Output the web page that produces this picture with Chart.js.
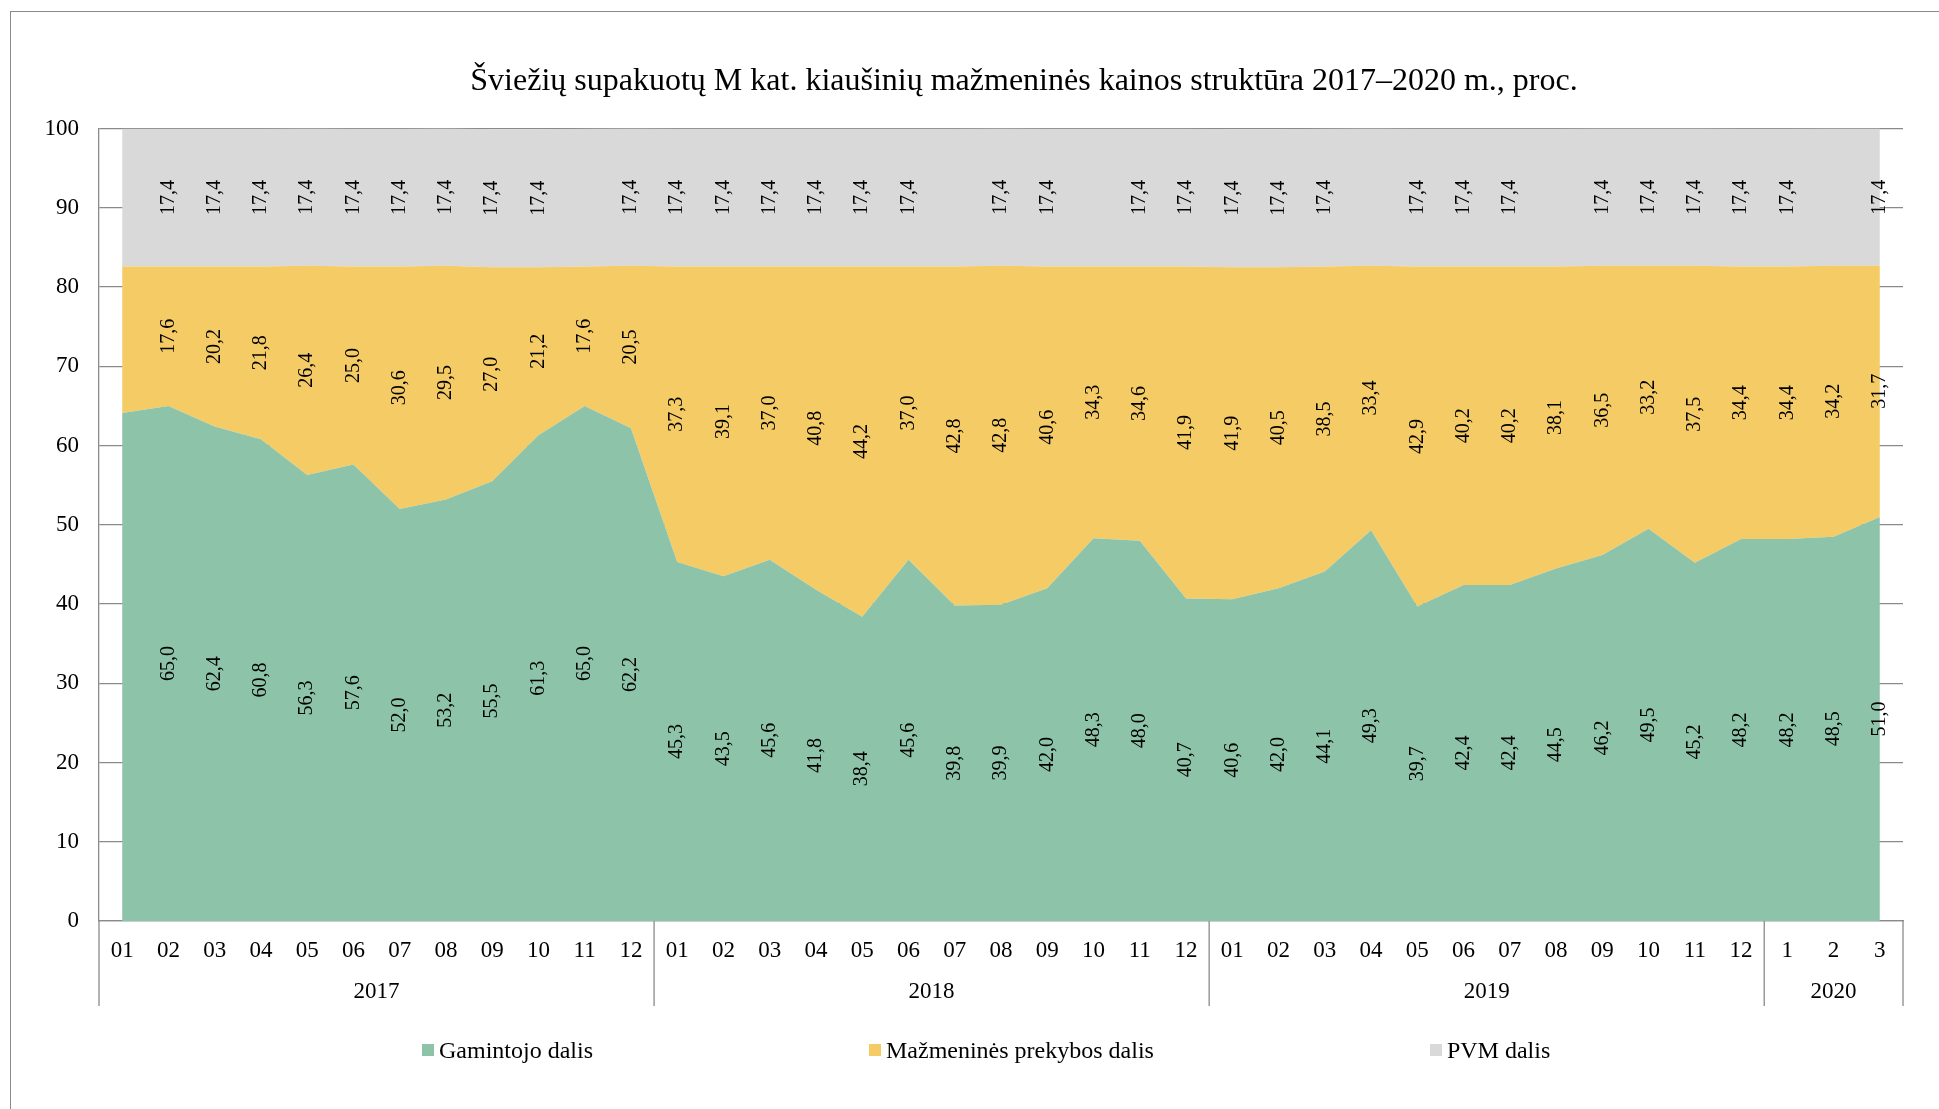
<!DOCTYPE html>
<html lang="lt">
<head>
<meta charset="utf-8">
<script src="https://cdn.jsdelivr.net/npm/chart.js@4.4.1/dist/chart.umd.min.js"></script>
<style>
  html, body { margin: 0; padding: 0; background: #fff; overflow: hidden; }
  #wrap { position: relative; width: 1939px; height: 1109px; }
  #frame { position: absolute; left: 10px; top: 11px; width: 2000px; height: 1200px;
           border-left: 1px solid #8a8a8a; border-top: 1px solid #8a8a8a; }
  #c { position: absolute; left: 0; top: 0; }
  #title { position: absolute; left: 0; width: 2048px; top: 61px; text-align: center;
           font-family: "Liberation Serif", "Times New Roman", serif; font-size: 32px;
           line-height: 36px; color: #000; white-space: nowrap; }
  #legend { position: absolute; left: 422px; top: 1036px; display: flex; gap: 276px;
            font-family: "Liberation Serif", "Times New Roman", serif; font-size: 24px;
            line-height: 28px; color: #000; white-space: nowrap; }
  #legend .item { display: flex; align-items: center; }
  #legend .box { width: 12px; height: 12px; margin-right: 5px; display: inline-block; }
</style>
</head>
<body>
<div id="wrap">
  <div id="frame"></div>
  <canvas id="c" width="1939" height="1109"></canvas>
  <div id="title">Šviežių supakuotų M kat. kiaušinių mažmeninės kainos struktūra 2017–2020 m., proc.</div>
  <div id="legend"></div>
</div>
<script>
// ---- data ----
const monthLabels = ['01','02','03','04','05','06','07','08','09','10','11','12',
                     '01','02','03','04','05','06','07','08','09','10','11','12',
                     '01','02','03','04','05','06','07','08','09','10','11','12',
                     '1','2','3'];
const years = ['2017', '2018', '2019', '2020'];
const yearCounts = [12, 12, 12, 3];

const seriesNames = ['Gamintojo dalis', 'Mažmeninės prekybos dalis', 'PVM dalis'];
const gamintojo = [64.1, 65.0, 62.4, 60.8, 56.3, 57.6, 52.0, 53.2, 55.5, 61.3, 65.0, 62.2,
                   45.3, 43.5, 45.6, 41.8, 38.4, 45.6, 39.8, 39.9, 42.0, 48.3, 48.0, 40.7,
                   40.6, 42.0, 44.1, 49.3, 39.7, 42.4, 42.4, 44.5, 46.2, 49.5, 45.2, 48.2,
                   48.2, 48.5, 51.0];
const prekybos = [18.5, 17.6, 20.2, 21.8, 26.4, 25.0, 30.6, 29.5, 27.0, 21.2, 17.6, 20.5,
                  37.3, 39.1, 37.0, 40.8, 44.2, 37.0, 42.8, 42.8, 40.6, 34.3, 34.6, 41.9,
                  41.9, 40.5, 38.5, 33.4, 42.9, 40.2, 40.2, 38.1, 36.5, 33.2, 37.5, 34.4,
                  34.4, 34.2, 31.7];
const pvm = [17.4, 17.4, 17.4, 17.4, 17.4, 17.4, 17.4, 17.4, 17.4, 17.4, 17.4, 17.4,
             17.4, 17.4, 17.4, 17.4, 17.4, 17.4, 17.4, 17.4, 17.4, 17.4, 17.4, 17.4,
             17.4, 17.4, 17.4, 17.4, 17.4, 17.4, 17.4, 17.4, 17.4, 17.4, 17.4, 17.4,
             17.4, 17.4, 17.4];
// indices whose value labels are not shown in the original
const hiddenGamintojo = [0];
const hiddenPrekybos = [0];
const hiddenPvm = [0, 10, 18, 21, 27, 31, 37];

const yTicks = [0, 10, 20, 30, 40, 50, 60, 70, 80, 90, 100];

// ---- styles ----
const colors = ['#8DC3A8', '#F5CB65', '#D9D9D9'];
const serif = '"Liberation Serif", "Times New Roman", serif';
const lineGray = '#8a8a8a';

const hiddenLists = [hiddenGamintojo, hiddenPrekybos, hiddenPvm];
const fmt = v => v.toFixed(1).replace('.', ',');

const segLabels = {
  id: 'segLabels',
  afterDatasetsDraw(chart) {
    const ctx = chart.ctx;
    const yScale = chart.scales.y;
    ctx.save();
    ctx.font = '20px ' + serif;
    ctx.fillStyle = '#000';
    ctx.textAlign = 'center';
    ctx.textBaseline = 'middle';
    chart.data.datasets.forEach((ds, d) => {
      const meta = chart.getDatasetMeta(d);
      const prev = d > 0 ? chart.getDatasetMeta(d - 1) : null;
      meta.data.forEach((pt, i) => {
        if (hiddenLists[d].includes(i)) return;
        const top = Math.max(pt.y, yScale.top);
        const bottom = prev ? prev.data[i].y : yScale.getPixelForValue(0);
        const cy = (top + bottom) / 2;
        ctx.save();
        ctx.translate(pt.x, cy);
        ctx.rotate(-Math.PI / 2);
        ctx.fillText(fmt(ds.data[i]), 0, 0);
        ctx.restore();
      });
    });
    ctx.restore();
  }
};

const yearAxis = {
  id: 'yearAxis',
  afterDraw(chart) {
    const ctx = chart.ctx;
    const xs = chart.scales.x;
    const area = chart.chartArea;
    const bottomY = 1006;
    const bounds = [area.left];
    let idx = 0;
    yearCounts.forEach((c, k) => {
      idx += c;
      if (k < yearCounts.length - 1) {
        bounds.push((xs.getPixelForValue(idx - 1) + xs.getPixelForValue(idx)) / 2);
      }
    });
    bounds.push(area.right);
    ctx.save();
    ctx.strokeStyle = lineGray;
    ctx.lineWidth = 1.3;
    bounds.forEach(b => {
      ctx.beginPath();
      ctx.moveTo(b, area.bottom);
      ctx.lineTo(b, bottomY);
      ctx.stroke();
    });
    ctx.font = '23px ' + serif;
    ctx.fillStyle = '#000';
    ctx.textAlign = 'center';
    ctx.textBaseline = 'middle';
    years.forEach((y, k) => {
      ctx.fillText(y, (bounds[k] + bounds[k + 1]) / 2, 992);
    });
    ctx.restore();
  }
};

const chart = new Chart(document.getElementById('c'), {
  type: 'line',
  data: {
    labels: monthLabels,
    datasets: [
      { label: seriesNames[0], data: gamintojo, backgroundColor: colors[0], fill: 'origin' },
      { label: seriesNames[1], data: prekybos, backgroundColor: colors[1], fill: '-1' },
      { label: seriesNames[2], data: pvm, backgroundColor: colors[2], fill: '-1' }
    ]
  },
  options: {
    responsive: false,
    devicePixelRatio: 1,
    animation: false,
    elements: {
      point: { radius: 0, hoverRadius: 0 },
      line: { borderWidth: 0, tension: 0, borderColor: 'rgba(0,0,0,0)' }
    },
    layout: { padding: { top: 128.6, left: 0, right: 36, bottom: 88 } },
    plugins: {
      legend: { display: false },
      title: { display: false },
      tooltip: { enabled: false }
    },
    scales: {
      x: {
        type: 'category',
        offset: true,
        grid: { display: false, drawTicks: false },
        border: { display: true, color: lineGray, width: 1.3 },
        ticks: {
          font: { family: serif, size: 23 },
          color: '#000',
          padding: 16,
          maxRotation: 0,
          autoSkip: false
        },
        afterFit(scale) { scale.height = 100; }
      },
      y: {
        stacked: true,
        min: 0,
        max: 100,
        afterBuildTicks(scale) { scale.ticks = yTicks.map(v => ({ value: v })); },
        grid: { color: lineGray, lineWidth: 1.3, drawTicks: false },
        border: { display: true, color: lineGray, width: 1.3 },
        ticks: {
          font: { family: serif, size: 23 },
          color: '#000',
          padding: 20
        },
        afterFit(scale) { scale.width = 99; }
      }
    }
  },
  plugins: [segLabels, yearAxis]
});

// HTML legend built from the chart's datasets
const legendEl = document.getElementById('legend');
chart.data.datasets.forEach(ds => {
  const item = document.createElement('div');
  item.className = 'item';
  const box = document.createElement('span');
  box.className = 'box';
  box.style.background = ds.backgroundColor;
  const txt = document.createElement('span');
  txt.textContent = ds.label;
  item.appendChild(box);
  item.appendChild(txt);
  legendEl.appendChild(item);
});
</script>
</body>
</html>
